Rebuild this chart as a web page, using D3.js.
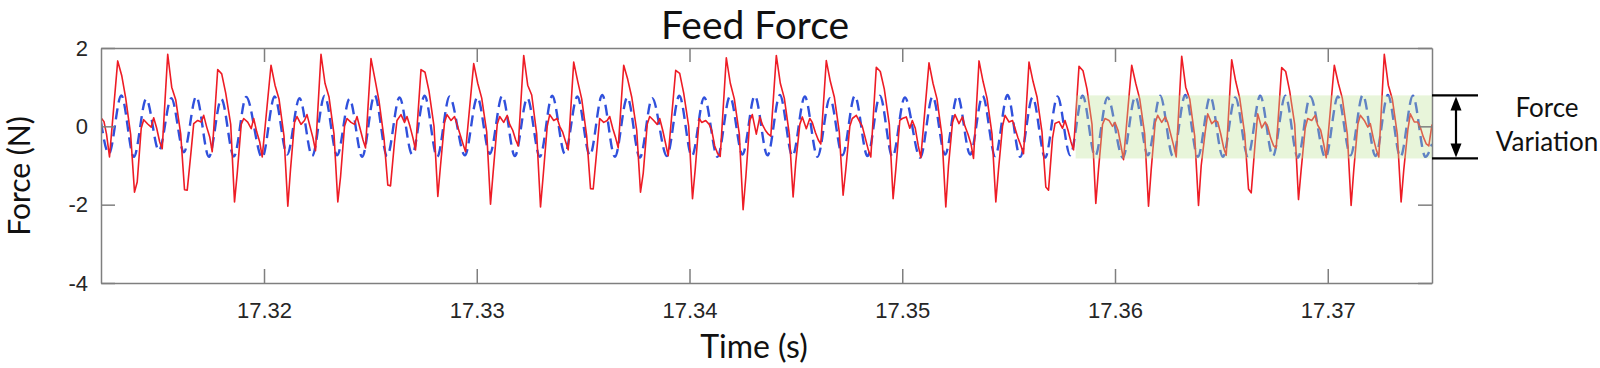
<!DOCTYPE html>
<html>
<head>
<meta charset="utf-8">
<script src="https://cdn.jsdelivr.net/npm/d3@7"></script>
<style>
  html, body { margin: 0; padding: 0; background: #fff; }
  svg { display: block; }
</style>
</head>
<body>
<svg id="chart" width="1600" height="368"></svg>
<script>
// all times below are ms after 17.31 s
const T0 = 17.31;

const xTicks = [17.32, 17.33, 17.34, 17.35, 17.36, 17.37];
const yTicks = [-4, -2, 0, 2];

// time of each main (red) force peak
const cyclePeakMs = [3.123, 5.474, 7.824, 10.329, 12.679, 15.029, 17.380, 19.857, 22.207, 24.557,
  26.907, 29.351, 31.730, 34.080, 36.430, 38.780, 41.257, 43.608, 45.958, 48.308,
  50.785, 53.135, 55.485, 57.835, 60.308, 62.658];

// where the red vertices sit inside one cycle, ms after its peak
const redOffsetsMs = [0, 0.188, 0.376, 0.611, 0.790, 0.917, 1.105, 1.222, 1.410, 1.575, 1.692, 1.833, 1.974, 2.092];

// measured force (N), one row per cycle
const redCycles = [
  [1.67, 1.30, 0.72, -0.22, -1.68, -1.42, -0.05, 0.17, 0.06, -0.02, 0.22, -0.05, -0.40, -0.57],
  [1.84, 1.00, 0.68, -0.20, -1.62, -1.63, -0.60, 0.07, 0.15, 0.11, 0.28, -0.02, -0.27, -0.65],
  [1.45, 1.34, 0.85, 0.05, -1.93, -1.20, 0.05, 0.20, 0.11, -0.06, 0.20, -0.14, -0.40, -0.78],
  [1.56, 1.05, 0.70, -0.25, -2.04, -1.10, 0.10, 0.25, 0.05, 0.15, 0.30, 0.00, -0.30, -0.62],
  [1.84, 1.10, 0.75, -0.20, -1.93, -1.30, 0.00, 0.20, 0.10, 0.05, 0.25, -0.05, -0.35, -0.55],
  [1.73, 1.20, 0.65, -0.30, -1.50, -1.52, -0.40, 0.15, 0.30, 0.10, 0.25, 0.00, -0.30, -0.60],
  [1.45, 1.38, 0.90, 0.00, -1.79, -1.00, 0.10, 0.30, 0.15, 0.25, 0.05, -0.20, -0.45, -0.65],
  [1.60, 1.10, 0.72, -0.15, -1.99, -1.15, 0.05, 0.25, 0.10, 0.28, 0.05, -0.10, -0.35, -0.50],
  [1.81, 1.05, 0.80, -0.20, -2.06, -1.25, 0.00, 0.30, 0.15, 0.20, 0.00, -0.15, -0.40, -0.60],
  [1.64, 1.15, 0.70, -0.25, -1.59, -1.60, -0.50, 0.20, 0.10, 0.15, 0.25, -0.05, -0.30, -0.55],
  [1.56, 1.20, 0.75, -0.10, -1.68, -1.20, 0.05, 0.25, 0.15, 0.05, 0.20, -0.10, -0.45, -0.75],
  [1.43, 1.35, 0.85, 0.00, -1.85, -1.10, 0.20, 0.10, 0.15, 0.05, -0.10, -0.50, -0.70, -0.77],
  [1.75, 1.10, 0.70, -0.20, -2.13, -1.30, 0.15, 0.30, -0.20, 0.24, 0.05, -0.10, -0.20, -0.25],
  [1.81, 1.10, 0.72, -0.20, -1.80, -0.90, 0.05, 0.24, -0.06, 0.20, 0.10, -0.15, -0.35, -0.45],
  [1.68, 1.15, 0.75, -0.15, -1.76, -1.10, 0.00, 0.20, 0.28, 0.11, 0.00, -0.30, -0.60, -0.78],
  [1.51, 1.40, 0.95, 0.05, -1.85, -1.10, 0.15, 0.20, 0.24, -0.05, 0.15, -0.05, -0.50, -0.80],
  [1.62, 1.10, 0.70, -0.25, -2.06, -1.00, 0.10, 0.30, 0.07, 0.24, 0.00, -0.20, -0.45, -0.82],
  [1.67, 1.15, 0.72, -0.20, -1.93, -1.10, 0.00, 0.28, 0.11, 0.15, -0.05, -0.30, -0.50, -0.70],
  [1.64, 1.15, 0.75, -0.15, -1.55, -1.63, -0.30, 0.07, 0.12, -0.05, 0.15, -0.10, -0.40, -0.60],
  [1.53, 1.42, 0.95, 0.05, -1.97, -1.10, 0.05, 0.20, 0.15, 0.00, 0.10, -0.10, -0.50, -0.85],
  [1.56, 1.10, 0.70, -0.20, -2.04, -1.10, 0.10, 0.28, 0.10, 0.24, 0.10, -0.20, -0.50, -0.78],
  [1.79, 1.00, 0.70, -0.25, -2.02, -1.00, -0.14, 0.32, 0.07, 0.15, 0.11, -0.19, -0.55, -0.74],
  [1.70, 1.15, 0.72, -0.20, -1.60, -1.70, -0.40, 0.32, -0.04, 0.11, 0.00, -0.30, -0.50, -0.55],
  [1.50, 1.40, 0.90, 0.05, -1.87, -1.10, -0.05, 0.20, 0.15, 0.28, 0.03, -0.10, -0.45, -0.80],
  [1.56, 1.10, 0.72, -0.20, -2.02, -1.10, 0.05, 0.28, 0.15, -0.02, 0.07, -0.30, -0.60, -0.78],
  [1.84, 1.05, 0.70, -0.20, -1.93, -1.10, -0.10, 0.32, 0.11, 0.11, -0.02, -0.27, -0.45, -0.50]
];
const redHead = [[2.338, 0.22], [2.479, 0.12], [2.597, -0.20], [2.738, -0.78]];
const redTail = [[64.90, 0.05]];

// dashed (model) force: trough, peak, trough, peak inside each cycle
const blueOffsetsMs = [-0.414, 0.170, 0.760, 1.340];
const blueCycles = [
  [-0.70, 0.79, -0.78, 0.70], [-0.62, 0.72, -0.66, 0.76], [-0.78, 0.70, -0.77, 0.75],
  [-0.80, 0.76, -0.72, 0.72], [-0.76, 0.78, -0.74, 0.70], [-0.78, 0.80, -0.76, 0.74],
  [-0.72, 0.78, -0.78, 0.76], [-0.74, 0.74, -0.70, 0.78], [-0.76, 0.72, -0.78, 0.78],
  [-0.70, 0.76, -0.74, 0.80], [-0.78, 0.74, -0.80, 0.72], [-0.76, 0.78, -0.76, 0.74],
  [-0.78, 0.76, -0.72, 0.78], [-0.74, 0.80, -0.76, 0.76], [-0.78, 0.72, -0.74, 0.78],
  [-0.76, 0.78, -0.78, 0.74], [-0.80, 0.76, -0.72, 0.78], [-0.72, 0.78, -0.76, 0.80],
  [-0.78, 0.74, -0.80, 0.76], [-0.74, 0.78, -0.76, 0.74], [-0.80, 0.76, -0.74, 0.78],
  [-0.76, 0.80, -0.78, 0.76], [-0.78, 0.74, -0.76, 0.78], [-0.76, 0.78, -0.80, 0.76],
  [-0.80, 0.76, -0.74, 0.80], [-0.76, 0.80, -0.78, 0.78]
];
const blueHead = [[2.338, 0.10]];
const blueTail = [[64.59, -0.78], [64.90, -0.45]];

// shaded "force variation" band
const bandMs = [48.15, 64.90];
const bandForce = [-0.82, 0.79];

const toPoint = ([ms, v]) => ({ t: T0 + ms / 1000, v });

const redData = [
  ...redHead,
  ...redCycles.flatMap((row, i) => row.map((v, j) => [cyclePeakMs[i] + redOffsetsMs[j], v])),
  ...redTail
].map(toPoint);

const blueData = [
  ...blueHead,
  ...blueCycles.flatMap((row, i) => row.map((v, j) => [cyclePeakMs[i] + blueOffsetsMs[j], v])),
  ...blueTail
].map(toPoint);

const margin = { top: 48, right: 168, bottom: 85, left: 101 };
const W = 1600, H = 368;

const svg = d3.select("#chart");

const x = d3.scaleLinear()
  .domain([T0 + 2.338 / 1000, T0 + 64.90 / 1000])
  .range([margin.left, W - margin.right]);

const y = d3.scaleLinear()
  .domain([-4, 2])
  .range([H - margin.bottom, margin.top]);

const [x0, x1] = x.range();
const [y0, y1] = y.range();

svg.append("defs").append("clipPath")
  .attr("id", "plot-clip")
  .append("rect")
  .attr("x", x0).attr("y", y1)
  .attr("width", x1 - x0).attr("height", y0 - y1);

const plot = svg.append("g").attr("clip-path", "url(#plot-clip)");

plot.append("path")
  .datum(blueData)
  .attr("fill", "none")
  .attr("stroke", "#3050dc")
  .attr("stroke-width", 2.4)
  .attr("stroke-dasharray", "11,6")
  .attr("d", d3.line().x(d => x(d.t)).y(d => y(d.v)).curve(d3.curveMonotoneX));

plot.append("path")
  .datum(redData)
  .attr("fill", "none")
  .attr("stroke", "#ee1c25")
  .attr("stroke-width", 1.6)
  .attr("stroke-linejoin", "round")
  .attr("d", d3.line().x(d => x(d.t)).y(d => y(d.v)));

// band sits on top of the traces, translucent
plot.append("rect")
  .attr("x", x(T0 + bandMs[0] / 1000))
  .attr("y", y(bandForce[1]))
  .attr("width", x(T0 + bandMs[1] / 1000) - x(T0 + bandMs[0] / 1000))
  .attr("height", y(bandForce[0]) - y(bandForce[1]))
  .attr("fill", "rgb(190,225,150)")
  .attr("fill-opacity", 0.35);

// axes, matlab style box with inward ticks on all four sides
const tickLen = 14;
const axisColor = "#7f7f7f";

const styleAxis = g => {
  g.select(".domain").attr("stroke", axisColor).attr("stroke-width", 1.5);
  g.selectAll(".tick line").attr("stroke", axisColor).attr("stroke-width", 1.5);
  g.selectAll(".tick text")
    .attr("fill", "#262626")
    .style("font-family", "'Liberation Sans', Arial, sans-serif")
    .style("font-size", "22px");
};

svg.append("g")
  .attr("transform", `translate(0,${y0})`)
  .call(d3.axisBottom(x).tickValues(xTicks).tickFormat(d3.format(".2f"))
    .tickSize(-tickLen).tickSizeOuter(0).tickPadding(19))
  .call(styleAxis);

svg.append("g")
  .attr("transform", `translate(0,${y1})`)
  .call(d3.axisTop(x).tickValues(xTicks).tickFormat("")
    .tickSize(-tickLen).tickSizeOuter(0))
  .call(styleAxis);

svg.append("g")
  .attr("transform", `translate(${x0},0)`)
  .call(d3.axisLeft(y).tickValues(yTicks).tickFormat(d => String(d))
    .tickSize(-tickLen).tickSizeOuter(0).tickPadding(13))
  .call(styleAxis);

svg.append("g")
  .attr("transform", `translate(${x1},0)`)
  .call(d3.axisRight(y).tickValues(yTicks).tickFormat("")
    .tickSize(-tickLen).tickSizeOuter(0))
  .call(styleAxis);

// titles
const labelFont = "Lato, 'Open Sans', sans-serif";

svg.append("text")
  .attr("x", 755).attr("y", 38.5)
  .attr("text-anchor", "middle")
  .style("font-family", labelFont)
  .style("font-size", "39px")
  .attr("fill", "#111")
  .text("Feed Force");

svg.append("text")
  .attr("transform", "translate(30,176) rotate(-90)")
  .attr("text-anchor", "middle")
  .style("font-family", labelFont)
  .style("font-size", "30px")
  .attr("fill", "#111")
  .text("Force (N)");

svg.append("text")
  .attr("x", 754).attr("y", 358)
  .attr("text-anchor", "middle")
  .style("font-family", labelFont)
  .style("font-size", "32px")
  .attr("fill", "#111")
  .text("Time (s)");

// force variation bracket on the right
const note = svg.append("g").attr("stroke", "#000").attr("fill", "#000");
const bTop = y(bandForce[1]), bBot = y(bandForce[0]);
const arrowX = x1 + 24;

note.selectAll("line.lim")
  .data([bTop, bBot])
  .join("line")
  .attr("class", "lim")
  .attr("x1", x1).attr("x2", x1 + 46)
  .attr("y1", d => d).attr("y2", d => d)
  .attr("stroke-width", 2.2);

note.append("line")
  .attr("x1", arrowX).attr("x2", arrowX)
  .attr("y1", bTop + 8).attr("y2", bBot - 8)
  .attr("stroke-width", 2.2);

note.append("path")
  .attr("stroke", "none")
  .attr("d", `M${arrowX},${bTop + 1} L${arrowX - 5.5},${bTop + 15} L${arrowX + 5.5},${bTop + 15} Z`);

note.append("path")
  .attr("stroke", "none")
  .attr("d", `M${arrowX},${bBot - 1} L${arrowX - 5.5},${bBot - 15} L${arrowX + 5.5},${bBot - 15} Z`);

svg.append("g")
  .attr("text-anchor", "middle")
  .style("font-family", labelFont)
  .style("font-size", "26px")
  .attr("fill", "#111")
  .selectAll("text")
  .data(["Force", "Variation"])
  .join("text")
  .attr("x", 1547)
  .attr("y", (d, i) => 117 + i * 34)
  .text(d => d);
</script>
</body>
</html>
